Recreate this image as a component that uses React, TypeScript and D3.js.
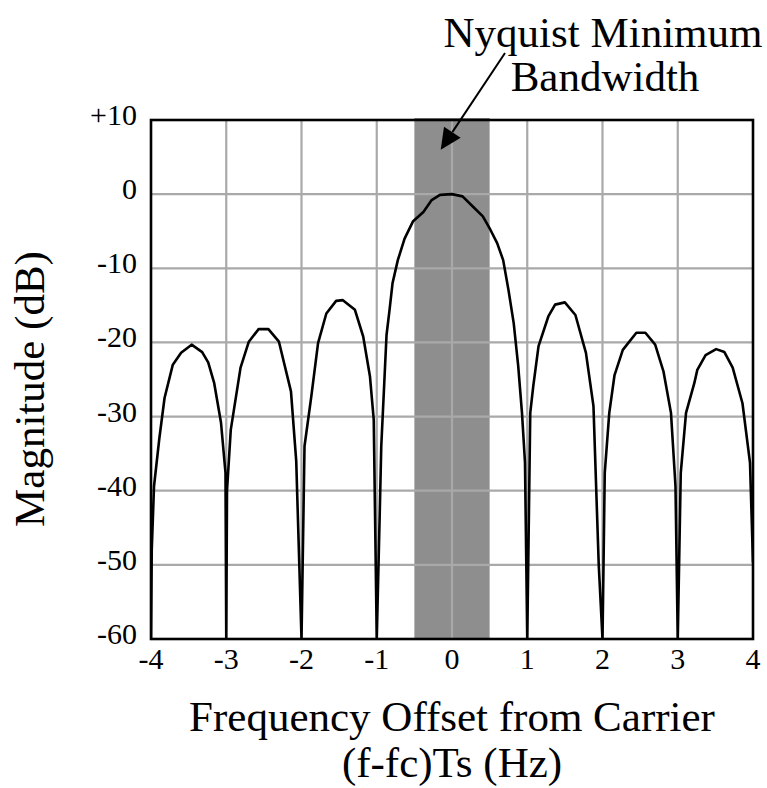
import * as d3 from 'd3';

const WIDTH = 767;
const HEIGHT = 788;

const MARGIN = { top: 120, right: 14, bottom: 149, left: 151 };

// frequency offset (f-fc)Ts, Hz
const freq = [
  -4.0, -3.99, -3.96, -3.89, -3.82, -3.71, -3.6, -3.46, -3.32, -3.24, -3.16, -3.07, -3.01,
  -3.0, -2.99, -2.94, -2.81, -2.7, -2.57, -2.44, -2.3, -2.14, -2.07,
  -2.0, -1.96, -1.87, -1.78, -1.67, -1.54, -1.45, -1.29, -1.18, -1.09, -1.04,
  -1.0, -0.96, -0.94, -0.87, -0.83, -0.79, -0.72, -0.63, -0.52, -0.38, -0.27, -0.16, 0,
  0.14, 0.28, 0.41, 0.51, 0.6, 0.68, 0.75, 0.82, 0.88, 0.93, 0.97,
  1.0, 1.04, 1.08, 1.15, 1.28, 1.37, 1.5, 1.64, 1.78, 1.88, 1.95,
  2.0, 2.03, 2.09, 2.16, 2.27, 2.45, 2.57, 2.7, 2.81, 2.91, 2.97,
  3.0, 3.04, 3.11, 3.22, 3.26, 3.37, 3.51, 3.62, 3.73, 3.86, 3.96, 4.0,
];

// magnitude, dB
const magDb = [
  -60, -48, -39.4, -33, -27.5, -23, -21.4, -20.3, -21.3, -22.7, -25.5, -30.8, -37.6,
  -60, -40, -31.8, -23.4, -19.9, -18.2, -18.2, -19.9, -26.6, -36,
  -60, -34, -27.3, -20.1, -16.1, -14.4, -14.3, -15.6, -19.2, -24.6, -30.4,
  -60, -42.9, -34, -19, -15.6, -12, -8.9, -6.0, -3.7, -2.4, -0.8, -0.1, 0,
  -0.3, -1.7, -3.0, -4.8, -6.6, -8.9, -12.9, -17.4, -23.2, -29.5, -36.2,
  -60, -29.5, -25.9, -20.5, -16.5, -14.9, -14.6, -16.3, -21.4, -28.6, -50,
  -60, -37.6, -29.5, -24.4, -21, -18.7, -18.7, -20.3, -23.9, -29.5, -39.4,
  -60, -37.6, -29.5, -25.5, -23.7, -21.7, -20.9, -21.3, -23.4, -28.2, -36.2, -49.7,
];

const xTicks = [-4, -3, -2, -1, 0, 1, 2, 3, 4];
const yTicks = [10, 0, -10, -20, -30, -40, -50, -60];
const yTickLabels = ['+10', '0', '-10', '-20', '-30', '-40', '-50', '-60'];

const nyquistBand = [-0.5, 0.5];

const FONT = '"Liberation Serif", "Times New Roman", serif';

function App() {
  const x = d3.scaleLinear()
    .domain([-4, 4])
    .range([MARGIN.left, WIDTH - MARGIN.right]);

  const y = d3.scaleLinear()
    .domain([-60, 10])
    .range([HEIGHT - MARGIN.bottom, MARGIN.top]);

  const points = freq.map((f, i) => [f, magDb[i]] as [number, number]);
  const line = d3.line<[number, number]>()
    .x((d) => x(d[0]))
    .y((d) => y(d[1]));

  const x0 = x(-4);
  const x1 = x(4);
  const y0 = y(-60);
  const y1 = y(10);

  // arrow from label to band
  const ax0 = 505; const ay0 = 53;
  const tipX = x(-0.15); const tipY = y(6);
  const ang = Math.atan2(tipY - ay0, tipX - ax0);
  const headLen = 21; const headHalf = 10;
  const bx = tipX - headLen * Math.cos(ang);
  const by = tipY - headLen * Math.sin(ang);
  const px = -Math.sin(ang) * headHalf;
  const py = Math.cos(ang) * headHalf;

  return (
    <div style={{ position: 'absolute', left: 0, top: 0 }}>
      <svg width={WIDTH} height={HEIGHT} style={{ display: 'block', background: '#fff' }}>
        <defs>
          <clipPath id="plot-clip">
            <rect x={x0} y={y1} width={x1 - x0} height={y0 - y1} />
          </clipPath>
        </defs>

        <rect
          x={x(nyquistBand[0])}
          y={y1 - 2}
          width={x(nyquistBand[1]) - x(nyquistBand[0])}
          height={y0 - y1 + 2}
          fill="#8e8e8e"
        />

        <g stroke="#a9a9a9" strokeWidth={2.2}>
          {xTicks.slice(1, -1).map((t) => (
            <line key={`gx${t}`} x1={x(t)} x2={x(t)} y1={y1} y2={y0} />
          ))}
          {yTicks.slice(1, -1).map((t) => (
            <line key={`gy${t}`} x1={x0} x2={x1} y1={y(t)} y2={y(t)} />
          ))}
        </g>

        <path
          d={line(points) || ''}
          fill="none"
          stroke="#000"
          strokeWidth={2.6}
          strokeLinejoin="round"
          clipPath="url(#plot-clip)"
        />

        <rect x={x0} y={y1} width={x1 - x0} height={y0 - y1} fill="none" stroke="#000" strokeWidth={2.6} />

        <g fontFamily={FONT} fontSize={30} fill="#000">
          {yTicks.map((t, i) => (
            <text key={`ty${t}`} x={137} y={y(t) + 5} textAnchor="end">{yTickLabels[i]}</text>
          ))}
          {xTicks.map((t) => (
            <text key={`tx${t}`} x={x(t)} y={669} textAnchor="middle">{t}</text>
          ))}
        </g>

        <g fontFamily={FONT} fontSize={43} fill="#000">
          <text x={603} y={47} textAnchor="middle">Nyquist Minimum</text>
          <text x={605} y={91} textAnchor="middle">Bandwidth</text>
          <text x={452} y={731} textAnchor="middle">Frequency Offset from Carrier</text>
          <text x={452} y={777} textAnchor="middle">(f-fc)Ts (Hz)</text>
          <text transform={`translate(44, 389) rotate(-90)`} textAnchor="middle">Magnitude (dB)</text>
        </g>

        <line x1={ax0} y1={ay0} x2={bx} y2={by} stroke="#000" strokeWidth={2} />
        <polygon
          points={`${tipX},${tipY} ${bx + px},${by + py} ${bx - px},${by - py}`}
          fill="#000"
        />
      </svg>
    </div>
  );
}

export default App;
